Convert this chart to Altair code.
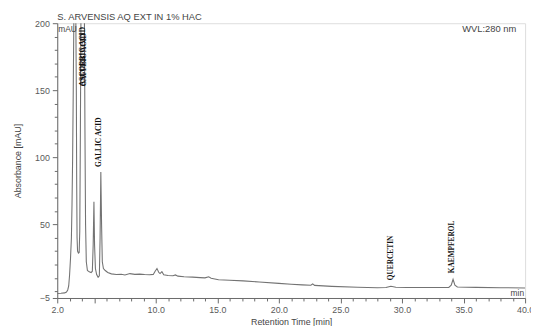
import altair as alt
import pandas as pd

# ---- chromatogram trace (retention time in min, absorbance in mAU) ----
time_min = [2.0, 2.3, 2.6, 2.75, 2.85, 2.93, 3.0, 3.08, 3.15, 3.2, 3.25, 3.3, 3.36,
            3.5, 3.55, 3.58, 3.61, 3.65, 3.72, 3.78, 3.83, 3.88, 3.93,
            4.2, 4.25, 4.3, 4.36, 4.45, 4.6, 4.75, 4.85, 4.92, 4.98, 5.03, 5.1, 5.2,
            5.32, 5.42, 5.48, 5.54, 5.6, 5.66, 5.75, 5.9, 6.1, 6.4, 6.8, 7.2, 7.5,
            7.9, 8.3, 8.7, 9.1, 9.5, 9.8, 9.95, 10.1, 10.25, 10.35, 10.5, 10.65,
            11.0, 11.4, 11.6, 11.8, 12.3, 13.0, 13.6, 14.0, 14.3, 14.5, 15.1, 16.0,
            17.1, 18.4, 20.0, 21.0, 21.9, 22.6, 22.75, 22.9, 24.3, 26.4, 28.0, 28.7,
            29.1, 29.5, 30.4, 32.0, 33.8, 34.0, 34.15, 34.3, 34.5, 36.0, 38.0, 40.0]
absorbance = [-1.6, -1.5, -1.2, -0.5, 1.0, 4.0, 12.0, 25.0, 40.0, 65.0, 100.0, 150.0, 215.0,
              215.0, 150.0, 80.0, 40.0, 30.0, 28.5, 29.0, 45.0, 120.0, 215.0,
              215.0, 120.0, 50.0, 22.0, 15.5, 14.5, 14.0, 15.0, 35.0, 66.8, 35.0, 17.0, 12.5,
              10.5, 11.5, 40.0, 88.9, 50.0, 22.0, 17.0, 15.5, 14.0, 13.0, 12.5, 12.7, 12.2,
              13.2, 12.6, 12.8, 12.5, 12.3, 12.6, 15.0, 17.0, 14.0, 13.2, 14.6, 12.3,
              11.8, 11.6, 12.2, 11.3, 10.8, 10.6, 10.2, 10.0, 10.8, 9.8, 8.6, 8.2,
              7.8, 6.9, 5.9, 5.3, 4.8, 4.5, 5.5, 4.4, 3.7, 3.0, 2.6, 2.8,
              3.8, 3.0, 2.8, 2.8, 2.9, 4.5, 9.0, 4.5, 3.2, 2.9, 2.7, 2.5]

# ---- peak annotations ----
peak_names = ["ASCORBIC ACID", "CAFFEIC ACID", "GALLIC ACID", "QUERCETIN", "KAEMPFEROL"]
peak_label_time = [4.1, 4.15, 5.36, 29.12, 34.08]
peak_label_value = [153.0, 153.0, 92.8, 8.2, 13.4]

# ---- axis ticks ----
x_tick_values = [2, 3, 4, 5, 6, 7, 8, 9, 10, 11, 12, 13, 14, 15, 16, 17, 18, 19, 20,
                 21, 22, 23, 24, 25, 26, 27, 28, 29, 30, 31, 32, 33, 34, 35, 36, 37, 38, 39, 40]
x_major = [2, 5, 10, 15, 20, 25, 30, 35, 40]
x_labeled = [2, 10, 15, 20, 25, 30, 35, 40]
y_tick_values = [-5, 0, 10, 20, 30, 40, 50, 60, 70, 80, 90, 100, 110, 120, 130, 140,
                 150, 160, 170, 180, 190, 200]
y_major = [-5, 50, 100, 150, 200]

trace = pd.DataFrame({"t": time_min, "v": absorbance})
labels = pd.DataFrame({"t": peak_label_time, "v": peak_label_value, "name": peak_names})

AX = "#6a6a6a"
LAB = "#5a5a5a"


def arr(vals):
    return "[" + ",".join(str(v) for v in vals) + "]"


x_axis = alt.Axis(
    title="Retention Time [min]",
    values=x_tick_values,
    labelExpr="indexof(" + arr(x_labeled) + ", datum.value) >= 0 ? format(datum.value, '.1f') : ''",
    tickSize={"condition": {"test": "indexof(" + arr(x_major) + ", datum.value) >= 0", "value": 5}, "value": 3},
    labelOverlap=False,
    labelFlush=False,
    grid=False,
    domainColor=AX,
    tickColor=AX,
    labelColor=LAB,
    titleColor="#444444",
    labelFont="Liberation Sans",
    titleFont="Liberation Sans",
    labelFontSize=9,
    titleFontSize=9,
    titleFontWeight="normal",
    labelPadding=3,
    titlePadding=3,
)

y_axis = alt.Axis(
    title="Absorbance [mAU]",
    values=y_tick_values,
    labelExpr="indexof(" + arr(y_major) + ", datum.value) >= 0 ? format(datum.value, 'd') : ''",
    tickSize={"condition": {"test": "indexof(" + arr(y_major) + ", datum.value) >= 0", "value": 5}, "value": 3},
    labelOverlap=False,
    labelFlush=False,
    grid=False,
    domainColor=AX,
    tickColor=AX,
    labelColor=LAB,
    titleColor="#444444",
    labelFont="Liberation Sans",
    titleFont="Liberation Sans",
    labelFontSize=9,
    titleFontSize=9,
    titleFontWeight="normal",
    labelPadding=3,
    titlePadding=12,
)

xs = alt.Scale(domain=[2, 40], nice=False, zero=False)
ys = alt.Scale(domain=[-5, 200], nice=False, zero=False)

line = alt.Chart(trace).mark_line(color="#737373", strokeWidth=1.1, clip=True).encode(
    x=alt.X("t:Q", scale=xs, axis=x_axis),
    y=alt.Y("v:Q", scale=ys, axis=y_axis),
    order="t:Q",
)

peak_text = alt.Chart(labels).mark_text(
    angle=270, align="left", baseline="middle", font="Liberation Serif",
    fontWeight="bold", fontSize=7.5, color="#111111", clip=True,
).encode(
    x=alt.X("t:Q", scale=xs, axis=x_axis),
    y=alt.Y("v:Q", scale=ys, axis=y_axis),
    text="name:N",
)


def static_text(txt, x, y, align="left", size=9.0, color="#444444", baseline="alphabetic"):
    return alt.Chart(pd.DataFrame({"a": [0]})).mark_text(
        align=align, baseline=baseline, font="Liberation Sans", fontSize=size, color=color
    ).encode(x=alt.value(x), y=alt.value(y), text=alt.value(txt))


title = static_text("S. ARVENSIS AQ EXT IN 1% HAC", 0, -3, size=9.5)
wvl = static_text("WVL:280 nm", 466, 9, align="right", size=9.5)
mau = static_text("mAU", 1, 9, size=8.5)
mins = static_text("min", 474, 277, align="right", size=8.5)

chart = alt.layer(line, peak_text, title, wvl, mau, mins).properties(
    width=475,
    height=279,
    autosize=alt.AutoSizeParams(type="none"),
    padding={"left": 50, "top": 13, "right": 6, "bottom": 26},
).configure_view(stroke=AX, strokeWidth=1).configure(background="white")

chart.save("out.html", embed_options={"renderer": "svg", "actions": False})
